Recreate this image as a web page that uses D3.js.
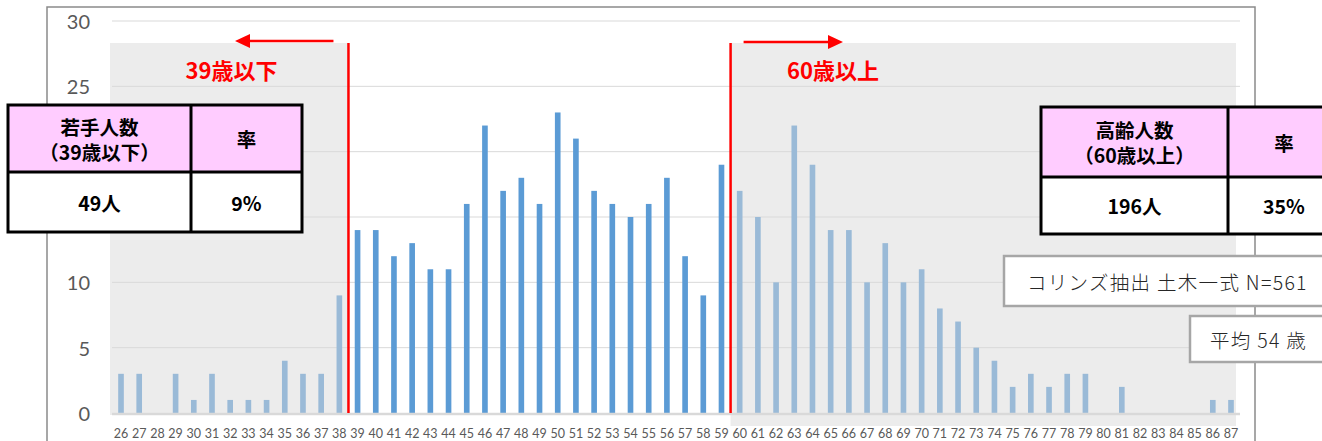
<!DOCTYPE html>
<html><head><meta charset="utf-8">
<script src="https://cdn.jsdelivr.net/npm/d3@7"></script>
<style>
html,body{margin:0;padding:0;background:#fff;overflow:hidden;}
svg{display:block;}
</style></head>
<body>
<svg id="chart" width="1322" height="441"></svg>
<script>
const ages = d3.range(26, 88).map(String);
const counts = [3,3,0,3,1,3,1,1,1,4,3,3,9,14,14,12,13,11,11,16,22,17,18,16,23,21,17,16,15,16,18,12,9,19,17,15,10,22,19,14,14,10,13,10,11,8,7,5,4,2,3,2,3,3,0,2,0,0,0,0,1,1];
const yTicks = [0,5,10,15,20,25,30];
const youngLabel = "39歳以下";
const oldLabel = "60歳以上";
const youngTable = {h1:"若手人数", h2:"（39歳以下）", rate:"率", n:"49人", pct:"9%"};
const oldTable = {h1:"高齢人数", h2:"（60歳以上）", rate:"率", n:"196人", pct:"35%"};
const note1 = "コリンズ抽出 土木一式 N=561";
const note2 = "平均 54 歳";

const svg = d3.select("#chart");
const x = d3.scaleBand().domain(ages).range([112, 1240]).paddingInner(0.69).paddingOuter(0.34);
const y = d3.scaleLinear().domain([0, 30]).range([413, 21]);
const cx = a => x(a) + x.bandwidth()/2;
const redL = (cx("38") + cx("39"))/2;
const redR = (cx("59") + cx("60"))/2;
const jp = "'Noto Sans CJK JP', 'Noto Sans', sans-serif";
const lat = "Lato, 'Open Sans', sans-serif";

// outer border
svg.append("rect").attr("x",47).attr("y",7).attr("width",1208).attr("height",450)
  .attr("fill","#fff").attr("stroke","#8a8a8a").attr("stroke-width",1.5);

// gridlines
svg.append("g").selectAll("line").data(yTicks.filter(d=>d>0)).join("line")
  .attr("x1",112).attr("x2",1240).attr("y1",d=>y(d)).attr("y2",d=>y(d))
  .attr("stroke","#d9d9d9").attr("stroke-width",1);

// y labels
svg.append("g").selectAll("text").data(yTicks).join("text")
  .attr("x",90).attr("y",d=>y(d)).attr("text-anchor","end").attr("dominant-baseline","central")
  .attr("font-family",lat).attr("font-size",20).attr("fill","#595959").text(d=>d);

// bars
svg.append("g").selectAll("rect").data(ages).join("rect")
  .attr("x",d=>x(d)).attr("width",x.bandwidth())
  .attr("y",(d,i)=>y(counts[i])).attr("height",(d,i)=>y(0)-y(counts[i]))
  .attr("fill","#5b9bd5");

// axis line
svg.append("line").attr("x1",112).attr("x2",1240).attr("y1",y(0)+1).attr("y2",y(0)+1)
  .attr("stroke","#d9d9d9").attr("stroke-width",2.5);

// x labels
svg.append("g").selectAll("text").data(ages).join("text")
  .attr("x",d=>cx(d)).attr("y",433).attr("text-anchor","middle").attr("dominant-baseline","central")
  .attr("font-family",lat).attr("font-size",12.5).attr("fill","#595959").text(d=>d);

// shading overlays
svg.append("rect").attr("x",110).attr("y",43).attr("width",redL-110).attr("height",y(0)-43+2)
  .attr("fill","rgba(218,218,218,0.5)");
svg.append("rect").attr("x",redR).attr("y",43).attr("width",1236-redR).attr("height",426-43)
  .attr("fill","rgba(218,218,218,0.5)");

// red lines
[redL, redR].forEach(v=>{
  svg.append("line").attr("x1",v).attr("x2",v).attr("y1",43).attr("y2",y(0))
    .attr("stroke","#ff0000").attr("stroke-width",2.5);
});
// arrows
function arrow(x0, x1, yy){
  const dir = Math.sign(x1-x0);
  svg.append("line").attr("x1",x0).attr("x2",x1-dir*12).attr("y1",yy).attr("y2",yy)
    .attr("stroke","#ff0000").attr("stroke-width",2.5);
  svg.append("path").attr("d",`M${x1},${yy} L${x1-dir*15},${yy-7} L${x1-dir*15},${yy+7} Z`).attr("fill","#ff0000");
}
arrow(redL-15, 235, 41);
arrow(redR+13, 843, 42);

svg.append("text").attr("x",231.5).attr("y",69).attr("text-anchor","middle").attr("dominant-baseline","central")
  .attr("font-family",jp).attr("font-weight","bold").attr("font-size",22).attr("fill","#ff0000").text(youngLabel);
svg.append("text").attr("x",833).attr("y",69).attr("text-anchor","middle").attr("dominant-baseline","central")
  .attr("font-family",jp).attr("font-weight","bold").attr("font-size",22).attr("fill","#ff0000").text(oldLabel);

// tables
function table(t, x0, x1, xm, y0, y1, ym){
  const g = svg.append("g");
  g.append("rect").attr("x",x0).attr("y",y0).attr("width",x1-x0).attr("height",ym-y0).attr("fill","#ffccff");
  g.append("rect").attr("x",x0).attr("y",ym).attr("width",x1-x0).attr("height",y1-ym).attr("fill","#fff");
  g.append("rect").attr("x",x0).attr("y",y0).attr("width",x1-x0).attr("height",y1-y0)
    .attr("fill","none").attr("stroke","#000").attr("stroke-width",3);
  g.append("line").attr("x1",xm).attr("x2",xm).attr("y1",y0).attr("y2",y1).attr("stroke","#000").attr("stroke-width",3);
  g.append("line").attr("x1",x0).attr("x2",x1).attr("y1",ym).attr("y2",ym).attr("stroke","#000").attr("stroke-width",3);
  const c1 = (x0+xm)/2, c2 = (xm+x1)/2, hc = (y0+ym)/2, bc = (ym+y1)/2;
  const txt = (xx,yy,s)=>g.append("text").attr("x",xx).attr("y",yy).attr("text-anchor","middle")
    .attr("dominant-baseline","central").attr("font-family",jp).attr("font-weight","bold")
    .attr("font-size",19.5).attr("fill","#000").text(s);
  txt(c1,hc-12.5,t.h1); txt(c1,hc+12.5,t.h2); txt(c2,hc,t.rate);
  txt(c1,bc,t.n); txt(c2,bc,t.pct);
}
table(youngTable, 8, 302, 191, 105, 232, 172);
table(oldTable, 1041, 1340, 1228, 107, 234, 177);

// notes
function note(s, x0, y0, x1, y1, tx){
  svg.append("rect").attr("x",x0).attr("y",y0).attr("width",x1-x0).attr("height",y1-y0)
    .attr("fill","#fff").attr("stroke","#a6a6a6").attr("stroke-width",2.5);
  svg.append("text").attr("x",tx).attr("y",(y0+y1)/2).attr("dominant-baseline","central")
    .attr("font-family",jp).attr("font-weight",300).attr("font-size",19.5).attr("fill","#262626")
    .attr("letter-spacing",1.3).text(s);
}
note(note1, 1004, 256, 1345, 306, 1027);
note(note2, 1190, 316, 1345, 362, 1210);
</script>
</body></html>
